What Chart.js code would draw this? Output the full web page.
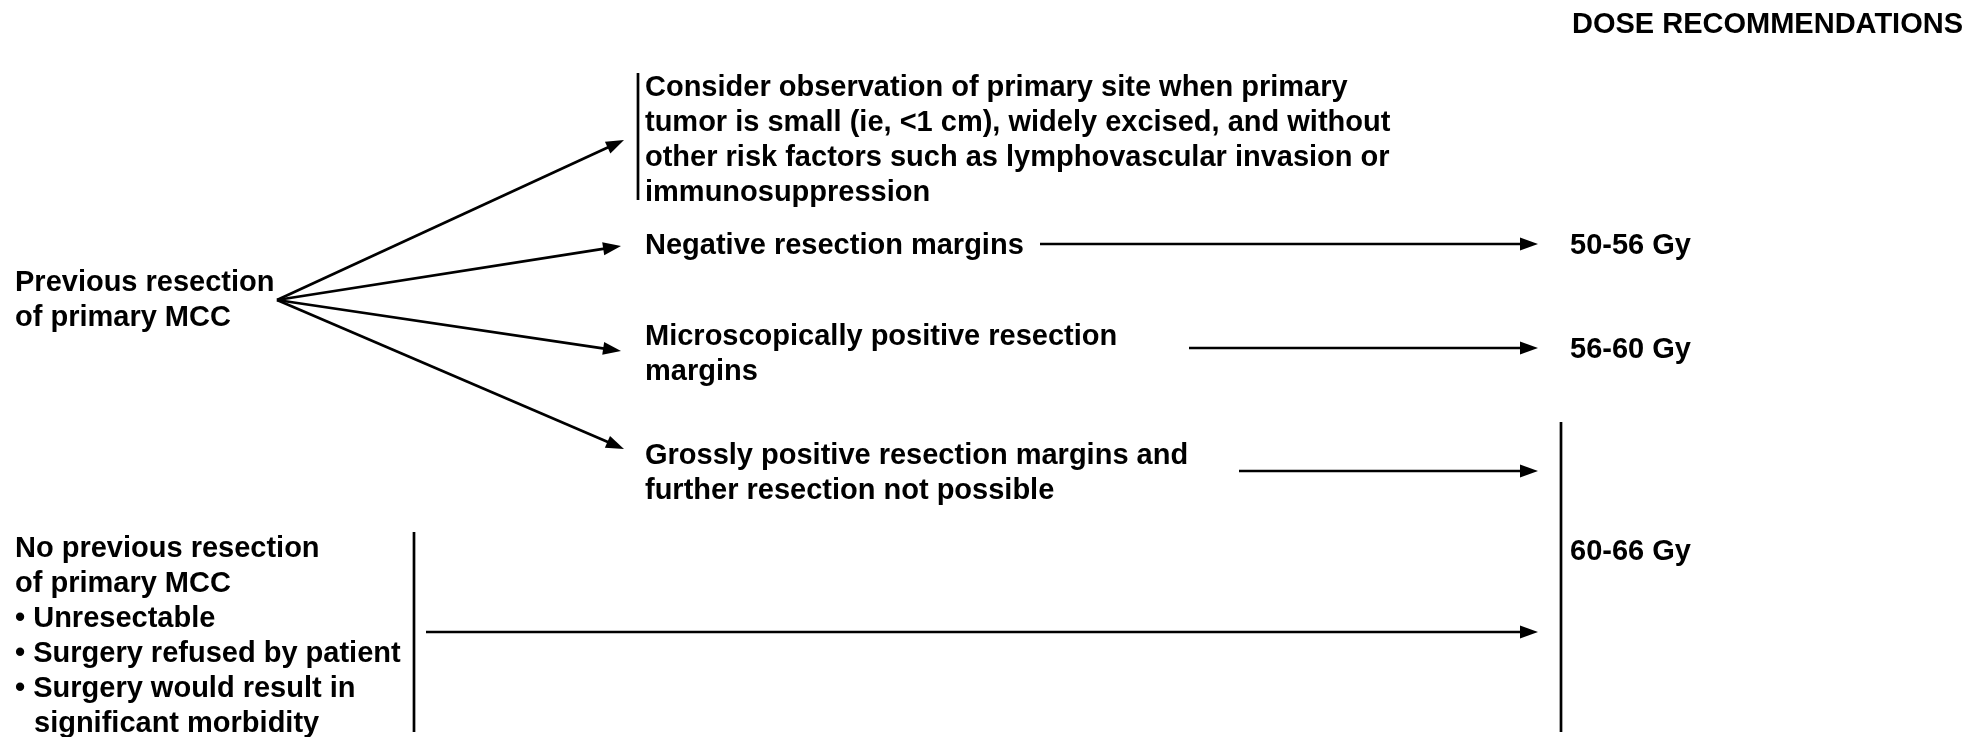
<!DOCTYPE html>
<html>
<head>
<meta charset="utf-8">
<script src="https://cdn.jsdelivr.net/npm/chart.js@4/dist/chart.umd.min.js"></script>
<style>
  html, body { margin: 0; padding: 0; background: #ffffff; }
  #wrap { position: relative; width: 1986px; height: 737px; }
</style>
</head>
<body>
<div id="wrap"><canvas id="c"></canvas></div>
<script>
// ---- Flowchart content (data space = 1986 x 737 units) ----
const headerText = ['DOSE RECOMMENDATIONS'];
const sourceText = ['Previous resection', 'of primary MCC'];
const observeText = ['Consider observation of primary site when primary',
  'tumor is small (ie, <1 cm), widely excised, and without',
  'other risk factors such as lymphovascular invasion or',
  'immunosuppression'];
const negativeText = ['Negative resection margins'];
const microText = ['Microscopically positive resection', 'margins'];
const grossText = ['Grossly positive resection margins and', 'further resection not possible'];
const noResectText = ['No previous resection', 'of primary MCC', '\u2022 Unresectable',
  '\u2022 Surgery refused by patient', '\u2022 Surgery would result in'];
const noResectTail = ['significant morbidity'];
const doseLabels = ['50-56 Gy', '56-60 Gy', '60-66 Gy'];

// fan of arrows from the source node
const fanOrigin = [277, 300];
const fanTipX = [624, 621, 621, 624];
const fanTipY = [140, 246, 351, 449];

// horizontal arrows toward dose column
const hArrowStartX = [1040, 1189, 1239, 426];
const hArrowEndX   = [1538, 1538, 1538, 1538];
const hArrowY      = [244, 348, 471, 632];

// vertical bracket bars
const barX    = [638, 414, 1561];
const barTopY = [73, 532, 422];
const barBotY = [200, 732, 732];

// text anchors (left x, first baseline)
const textBlocks = [
  { lines: headerText,   x: 1963, y: 33,  align: 'right' },
  { lines: sourceText,   x: 15,   y: 291 },
  { lines: observeText,  x: 645,  y: 96 },
  { lines: negativeText, x: 645,  y: 254 },
  { lines: microText,    x: 645,  y: 345 },
  { lines: grossText,    x: 645,  y: 464 },
  { lines: noResectText, x: 15,   y: 557 },
  { lines: noResectTail, x: 34,   y: 732 },
  { lines: [doseLabels[0]], x: 1570, y: 254 },
  { lines: [doseLabels[1]], x: 1570, y: 358 },
  { lines: [doseLabels[2]], x: 1570, y: 560 }
];

const LINE_H = 35;
const HEAD_LEN = 18;
const HEAD_HALF = 6.5;
const FONT = 'bold 29px "Liberation Sans", Arial, Helvetica, sans-serif';

// build arrows list
const arrows = [];
fanTipX.forEach((tx, i) => arrows.push({ from: fanOrigin, to: [tx, fanTipY[i]] }));
hArrowY.forEach((yy, i) => arrows.push({ from: [hArrowStartX[i], yy], to: [hArrowEndX[i], yy] }));

const lineStyle = { borderColor: '#000', borderWidth: 2.7, pointRadius: 0, showLine: true,
  fill: false, tension: 0, borderCapStyle: 'butt' };

const datasets = [];
arrows.forEach(a => {
  const dx = a.to[0] - a.from[0], dy = a.to[1] - a.from[1];
  const len = Math.hypot(dx, dy);
  const ex = a.to[0] - dx / len * (HEAD_LEN - 3), ey = a.to[1] - dy / len * (HEAD_LEN - 3);
  datasets.push(Object.assign({ data: [{ x: a.from[0], y: a.from[1] }, { x: ex, y: ey }] }, lineStyle));
});
barX.forEach((bx, i) => {
  datasets.push(Object.assign({ data: [{ x: bx, y: barTopY[i] }, { x: bx, y: barBotY[i] }] }, lineStyle));
});

const flowPlugin = {
  id: 'flow',
  afterDatasetsDraw(chart) {
    const { ctx, scales } = chart;
    const sx = scales.x, sy = scales.y;
    ctx.save();
    ctx.fillStyle = '#000';
    arrows.forEach(a => {
      const x1 = sx.getPixelForValue(a.from[0]), y1 = sy.getPixelForValue(a.from[1]);
      const x2 = sx.getPixelForValue(a.to[0]), y2 = sy.getPixelForValue(a.to[1]);
      const ang = Math.atan2(y2 - y1, x2 - x1);
      ctx.save();
      ctx.translate(x2, y2);
      ctx.rotate(ang);
      ctx.beginPath();
      ctx.moveTo(0, 0);
      ctx.lineTo(-HEAD_LEN, -HEAD_HALF);
      ctx.lineTo(-HEAD_LEN, HEAD_HALF);
      ctx.closePath();
      ctx.fill();
      ctx.restore();
    });
    ctx.font = FONT;
    ctx.textBaseline = 'alphabetic';
    textBlocks.forEach(b => {
      ctx.textAlign = b.align || 'left';
      b.lines.forEach((t, i) => {
        ctx.fillText(t, sx.getPixelForValue(b.x), sy.getPixelForValue(b.y + i * LINE_H));
      });
    });
    ctx.restore();
  }
};

new Chart(document.getElementById('c'), {
  type: 'scatter',
  data: { datasets },
  options: {
    responsive: true,
    maintainAspectRatio: false,
    animation: false,
    events: [],
    layout: { padding: 0 },
    plugins: { legend: { display: false }, tooltip: { enabled: false }, title: { display: false } },
    scales: {
      x: { type: 'linear', min: 0, max: 1986, display: false },
      y: { type: 'linear', min: 0, max: 737, reverse: true, display: false }
    }
  },
  plugins: [flowPlugin]
});
</script>
</body>
</html>
